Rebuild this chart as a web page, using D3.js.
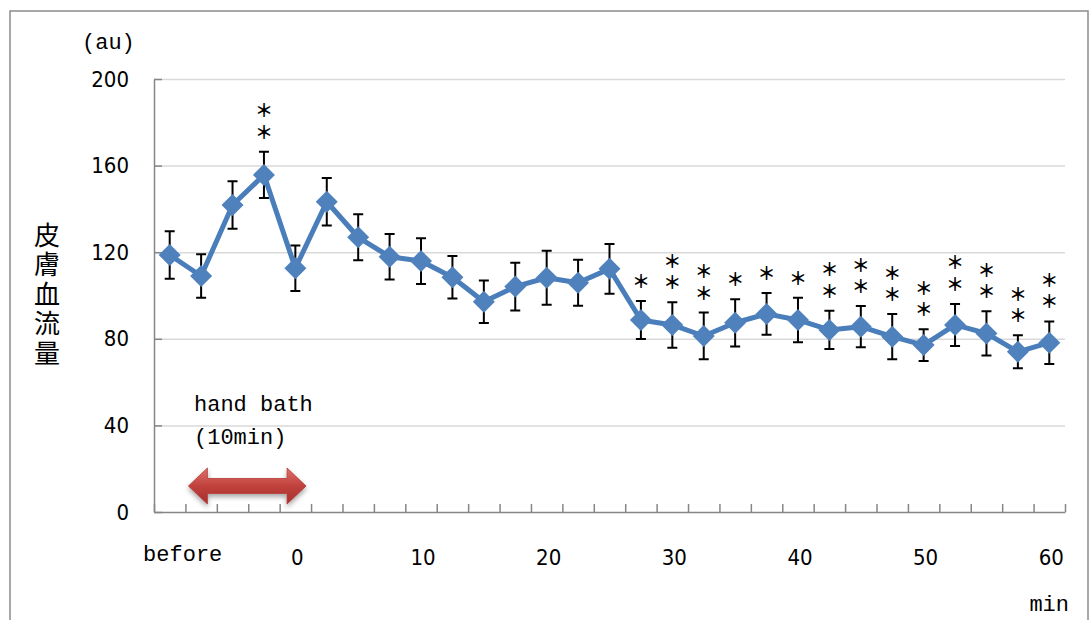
<!DOCTYPE html>
<html lang="en">
<head>
<meta charset="utf-8">
<style>
  body { margin: 0; background: #fff; }
  svg { display: block; background: #fff; }
  .num { font-family: "DejaVu Sans Condensed", "Liberation Sans Narrow", "Liberation Sans", sans-serif; font-stretch: condensed; font-size: 22px; fill: #000; }
  .mono { font-family: "Liberation Mono", "DejaVu Sans Mono", monospace; font-size: 22px; fill: #000; }
  .cjk { font-family: "Noto Sans CJK JP", sans-serif; fill: #000; }
  .grid line { stroke: #d9d9d9; stroke-width: 1.5px; }
  .grid path { display: none; }
  .axis path, .axis line { stroke: #868686; stroke-width: 1.5px; }
</style>
<script src="https://d3js.org/d3.v7.min.js"></script>
</head>
<body>
<script>
// time points (min); "before" = resting value before the hand bath
var times = ["before", -7.5, -5, -2.5, 0, 2.5, 5, 7.5, 10, 12.5, 15, 17.5, 20, 22.5, 25,
             27.5, 30, 32.5, 35, 37.5, 40, 42.5, 45, 47.5, 50, 52.5, 55, 57.5, 60];
// skin blood flow (au), mean and SE
var means = [118.7, 109.0, 141.8, 155.7, 112.6, 143.3, 126.9, 117.9, 115.9, 108.4, 97.1, 104.1, 108.2, 105.9, 112.3,
             88.7, 86.4, 81.3, 87.4, 91.5, 88.7, 84.1, 85.6, 81.0, 77.1, 86.4, 82.5, 74.0, 78.2];
var errs  = [11.0, 10.0, 11.0, 10.7, 10.5, 11.0, 10.6, 10.5, 10.6, 9.8, 9.8, 11.0, 12.5, 10.6, 11.5,
             8.8, 10.5, 10.8, 10.9, 9.6, 10.3, 8.8, 9.5, 10.4, 7.3, 9.7, 10.2, 7.6, 9.8];
// number of asterisks above each point
var sig   = [0, 0, 0, 2, 0, 0, 0, 0, 0, 0, 0, 0, 0, 0, 0,
             1, 2, 2, 1, 1, 1, 2, 2, 2, 2, 2, 2, 2, 2];
var shownTimes = ["before", 0, 10, 20, 30, 40, 50, 60];
var yTicks = [0, 40, 80, 120, 160, 200];

var width = 1092, height = 620;
var plotL = 154, plotR = 1065, plotT = 79, plotB = 512;

var svg = d3.select("body").append("svg")
  .attr("width", width)
  .attr("height", height);

var defs = svg.append("defs");
var grad = defs.append("linearGradient").attr("id", "arrowGrad")
  .attr("x1", 0).attr("y1", 0).attr("x2", 0).attr("y2", 1);
grad.append("stop").attr("offset", "0%").attr("stop-color", "#e0706b");
grad.append("stop").attr("offset", "50%").attr("stop-color", "#c0413d");
grad.append("stop").attr("offset", "100%").attr("stop-color", "#a5302c");
var shadow = defs.append("filter").attr("id", "shadow")
  .attr("x", "-20%").attr("y", "-40%").attr("width", "140%").attr("height", "180%");
shadow.append("feDropShadow").attr("dx", 0).attr("dy", 3).attr("stdDeviation", 2.5)
  .attr("flood-color", "#000").attr("flood-opacity", 0.35);

// outer frame
svg.append("rect")
  .attr("x", 10).attr("y", 11).attr("width", 1078).attr("height", 630)
  .attr("fill", "none").attr("stroke", "#8c8c8c").attr("stroke-width", 1.5);

var x = d3.scaleBand().domain(d3.range(times.length)).range([plotL, plotR]).padding(0);
var xb = d3.scaleLinear().domain([0, times.length]).range([plotL, plotR]);
var y = d3.scaleLinear().domain([0, 200]).range([plotB, plotT]);
var cx = function(i) { return x(i) + x.bandwidth() / 2; };

// gridlines
svg.append("g").attr("class", "grid")
  .attr("transform", "translate(" + plotL + ",0)")
  .call(d3.axisRight(y).tickValues(yTicks.slice(1)).tickSize(plotR - plotL).tickFormat(""));

// y axis
var ya = svg.append("g").attr("class", "axis")
  .attr("transform", "translate(" + plotL + ",0)")
  .call(d3.axisLeft(y).tickValues(yTicks).tickSizeInner(-8).tickSizeOuter(0).tickPadding(25));
ya.attr("font-family", null).attr("font-size", null);
ya.selectAll("text").attr("class", "num");

// x axis (ticks on category boundaries)
svg.append("g").attr("class", "axis")
  .attr("transform", "translate(0," + plotB + ")")
  .call(d3.axisBottom(xb).tickValues(d3.range(times.length + 1)).tickSizeInner(-8).tickSizeOuter(0).tickFormat(""));

// x labels
svg.append("g").selectAll("text")
  .data(shownTimes)
  .enter().append("text")
  .attr("class", function(d) { return d === "before" ? "mono" : "num"; })
  .attr("x", function(d) { return cx(times.indexOf(d)) + (d === "before" ? 13 : 2); })
  .attr("y", function(d) { return d === "before" ? 561 : 565; })
  .attr("text-anchor", "middle")
  .text(function(d) { return d; });

svg.append("text").attr("class", "mono")
  .attr("x", 1069).attr("y", 611).attr("text-anchor", "end").text("min");

svg.append("text").attr("class", "mono")
  .attr("x", 82).attr("y", 49).text("(au)");

// y title, vertical
svg.append("text")
  .attr("class", "cjk")
  .attr("font-size", 26)
  .attr("x", 47)
  .attr("y", 222)
  .style("writing-mode", "vertical-rl")
  .style("letter-spacing", "3.5px")
  .text("皮膚血流量");

// hand bath annotation
svg.append("text").attr("class", "mono").attr("x", 194).attr("y", 411).text("hand bath");
svg.append("text").attr("class", "mono").attr("x", 194).attr("y", 444).text("(10min)");

var aL = xb(1) + 3, aR = xb(5) - 5, aY = 486, hl = 19, hh = 18, sh = 7.5;
svg.append("path")
  .attr("d", "M" + aL + "," + aY +
    "L" + (aL + hl) + "," + (aY - hh) + "L" + (aL + hl) + "," + (aY - sh) +
    "L" + (aR - hl) + "," + (aY - sh) + "L" + (aR - hl) + "," + (aY - hh) +
    "L" + aR + "," + aY +
    "L" + (aR - hl) + "," + (aY + hh) + "L" + (aR - hl) + "," + (aY + sh) +
    "L" + (aL + hl) + "," + (aY + sh) + "L" + (aL + hl) + "," + (aY + hh) + "Z")
  .attr("fill", "url(#arrowGrad)")
  .attr("stroke", "#b53a36").attr("stroke-width", 0.8)
  .attr("filter", "url(#shadow)");

// error bars
var eb = svg.append("g").attr("stroke", "#000").attr("stroke-width", 2).attr("fill", "none");
eb.selectAll("path")
  .data(means)
  .enter().append("path")
  .attr("d", function(d, i) {
    var xc = cx(i), y1 = y(d + errs[i]), y2 = y(d - errs[i]);
    return "M" + (xc - 5) + "," + y1 + "H" + (xc + 5) +
           "M" + xc + "," + y1 + "V" + y2 +
           "M" + (xc - 5) + "," + y2 + "H" + (xc + 5);
  });

// line
svg.append("path")
  .datum(means)
  .attr("fill", "none")
  .attr("stroke", "#4a7ebb")
  .attr("stroke-width", 5)
  .attr("stroke-linejoin", "round")
  .attr("d", d3.line().x(function(d, i) { return cx(i); }).y(function(d) { return y(d); }));

// diamond markers
svg.append("g").selectAll("path")
  .data(means)
  .enter().append("path")
  .attr("d", d3.symbol().type(d3.symbolSquare).size(242))
  .attr("transform", function(d, i) { return "translate(" + cx(i) + "," + y(d) + ") rotate(45)"; })
  .attr("fill", "#4f81bd");

// significance asterisks: one text per point, stacked with tspans
var starPts = [];
sig.forEach(function(n, i) { if (n > 0) starPts.push({ i: i, n: n }); });
var st = svg.append("g").selectAll("text")
  .data(starPts)
  .enter().append("text")
  .attr("class", "cjk")
  .attr("font-size", 18)
  .attr("font-weight", 700)
  .attr("text-anchor", "middle")
  .attr("dominant-baseline", "central");
st.each(function(d) {
  var t = d3.select(this);
  var top = y(means[d.i] + errs[d.i]) - 21 - (d.n - 1) * 21.5;
  for (var k = 0; k < d.n; k++) {
    t.append("tspan")
      .attr("x", cx(d.i))
      .attr("y", top + k * 21.5)
      .text("＊");
  }
});
</script>
</body>
</html>
